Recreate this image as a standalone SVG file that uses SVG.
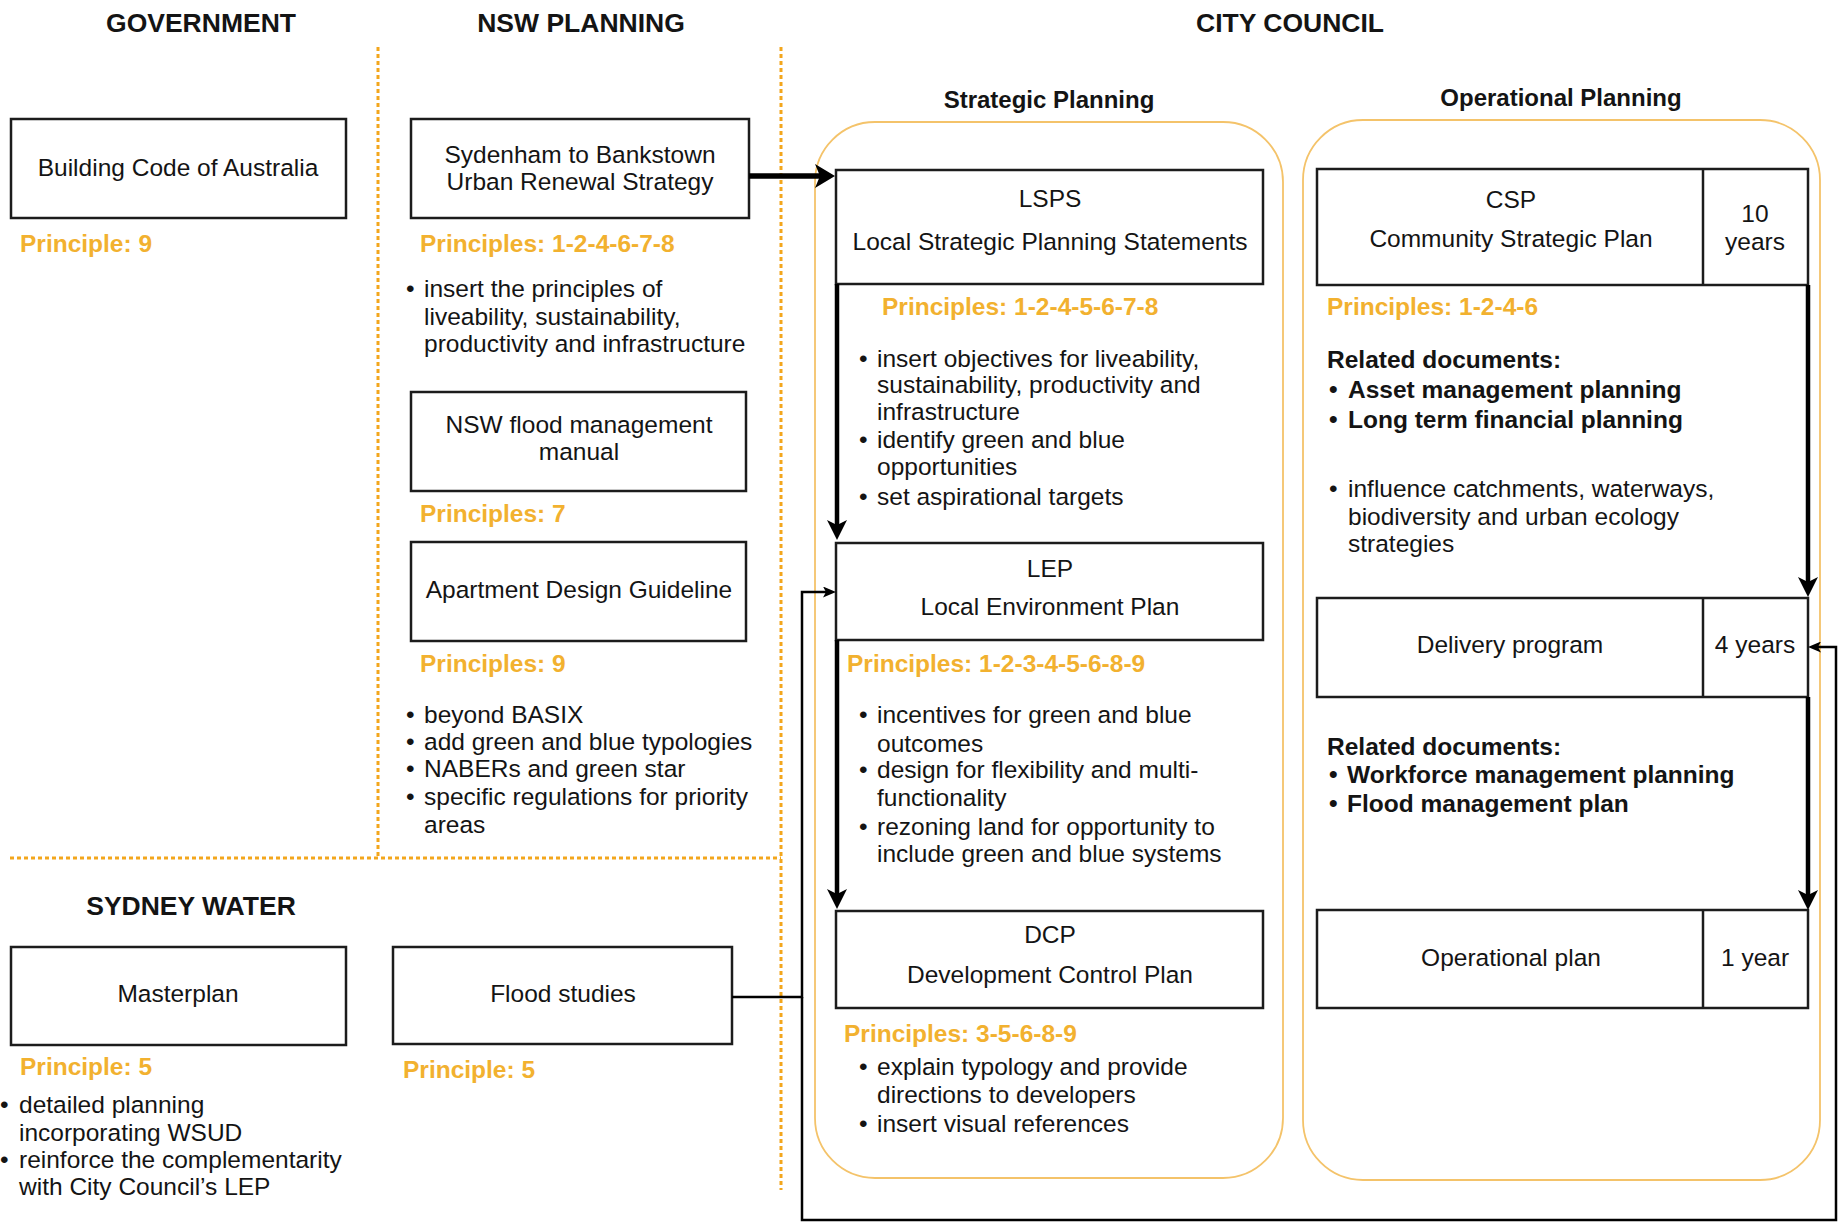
<svg xmlns="http://www.w3.org/2000/svg" width="1841" height="1223" viewBox="0 0 1841 1223">
<defs>
<style>
text{font-family:"Liberation Sans",Arial,Helvetica,sans-serif;fill:#141414;font-size:24.5px}
.h{font-weight:bold;font-size:26.5px;text-anchor:middle}
.sh{font-weight:bold;font-size:24px;text-anchor:middle}
.c{text-anchor:middle}
.p{fill:#F2B12F;font-weight:bold}
.b{font-weight:bold}
.box{fill:#fff;stroke:#1c1c1c;stroke-width:2.5}
.grp{fill:none;stroke:#F4C36A;stroke-width:1.8}
.dash{stroke:#F3A61C;stroke-width:3;stroke-dasharray:4 3;fill:none}
.thick{stroke:#000;stroke-width:4.5;fill:none}
.thin{stroke:#000;stroke-width:2.5;fill:none}
</style>
<marker id="big" markerUnits="userSpaceOnUse" viewBox="0 0 20 24" markerWidth="20" markerHeight="24" refX="10" refY="12" orient="auto"><path d="M0,0 L20,12 L0,24 L5,12 Z" fill="#000"/></marker>
<marker id="med" markerUnits="userSpaceOnUse" viewBox="0 0 20 20" markerWidth="20" markerHeight="20" refX="10" refY="10" orient="auto"><path d="M0,0 L20,10 L0,20 L5,10 Z" fill="#000"/></marker>
<marker id="sm" markerUnits="userSpaceOnUse" viewBox="0 0 13 11" markerWidth="13" markerHeight="11" refX="6" refY="5.5" orient="auto"><path d="M0,0 L13,5.5 L0,11 L3,5.5 Z" fill="#000"/></marker>
</defs>
<rect width="1841" height="1223" fill="#fff"/>

<g id="headers">
<text class="h" x="201" y="32">GOVERNMENT</text>
<text class="h" x="581" y="32">NSW PLANNING</text>
<text class="h" x="1290" y="32">CITY COUNCIL</text>
<text class="h" x="191" y="915">SYDNEY WATER</text>
<text class="sh" x="1049" y="108">Strategic Planning</text>
<text class="sh" x="1561" y="106">Operational Planning</text>
</g>

<g id="dividers">
<path class="dash" d="M378 47 V858"/>
<path class="dash" d="M781 47 V1190"/>
<path class="dash" d="M10 858 H781"/>
</g>

<g id="strategic-group"><rect class="grp" x="815" y="122" width="468" height="1056" rx="60" ry="60"/></g>
<g id="operational-group"><rect class="grp" x="1303" y="120" width="517" height="1060" rx="60" ry="60"/></g>

<g id="building-code">
<rect class="box" x="11" y="119" width="335" height="99"/>
<text class="c" x="178" y="176">Building Code of Australia</text>
<text class="p" x="20" y="252">Principle: 9</text>
</g>

<g id="sydenham">
<rect class="box" x="411" y="119" width="338" height="99"/>
<text class="c" x="580" y="163">Sydenham to Bankstown</text>
<text class="c" x="580" y="190">Urban Renewal Strategy</text>
<text class="p" x="420" y="252">Principles: 1-2-4-6-7-8</text>
<text x="406" y="297">•</text>
<text x="424" y="297">insert the principles of</text>
<text x="424" y="325">liveability, sustainability,</text>
<text x="424" y="352">productivity and infrastructure</text>
</g>

<g id="flood-manual">
<rect class="box" x="411" y="392" width="335" height="99"/>
<text class="c" x="579" y="433">NSW flood management</text>
<text class="c" x="579" y="460">manual</text>
<text class="p" x="420" y="522">Principles: 7</text>
</g>

<g id="apartment">
<rect class="box" x="411" y="542" width="335" height="99"/>
<text class="c" x="579" y="598">Apartment Design Guideline</text>
<text class="p" x="420" y="672">Principles: 9</text>
<text x="406" y="723">•</text><text x="424" y="723">beyond BASIX</text>
<text x="406" y="750">•</text><text x="424" y="750">add green and blue typologies</text>
<text x="406" y="777">•</text><text x="424" y="777">NABERs and green star</text>
<text x="406" y="805">•</text><text x="424" y="805">specific regulations for priority</text>
<text x="424" y="833">areas</text>
</g>

<g id="masterplan">
<rect class="box" x="11" y="947" width="335" height="98"/>
<text class="c" x="178" y="1002">Masterplan</text>
<text class="p" x="20" y="1075">Principle: 5</text>
<text x="0" y="1113">•</text><text x="19" y="1113">detailed planning</text>
<text x="19" y="1141">incorporating WSUD</text>
<text x="0" y="1168">•</text><text x="19" y="1168">reinforce the complementarity</text>
<text x="19" y="1195">with City Council’s LEP</text>
</g>

<g id="flood-studies">
<rect class="box" x="393" y="947" width="339" height="97"/>
<text class="c" x="563" y="1002">Flood studies</text>
<text class="p" x="403" y="1078">Principle: 5</text>
</g>

<g id="lsps">
<rect class="box" x="836" y="170" width="427" height="114"/>
<text class="c" x="1050" y="207">LSPS</text>
<text class="c" x="1050" y="250">Local Strategic Planning Statements</text>
<text class="p" x="882" y="315">Principles: 1-2-4-5-6-7-8</text>
<text x="859" y="367">•</text><text x="877" y="367">insert objectives for liveability,</text>
<text x="877" y="393">sustainability, productivity and</text>
<text x="877" y="420">infrastructure</text>
<text x="859" y="448">•</text><text x="877" y="448">identify green and blue</text>
<text x="877" y="475">opportunities</text>
<text x="859" y="505">•</text><text x="877" y="505">set aspirational targets</text>
</g>

<g id="lep">
<rect class="box" x="836" y="543" width="427" height="97"/>
<text class="c" x="1050" y="577">LEP</text>
<text class="c" x="1050" y="615">Local Environment Plan</text>
<text class="p" x="847" y="672">Principles: 1-2-3-4-5-6-8-9</text>
<text x="859" y="723">•</text><text x="877" y="723">incentives for green and blue</text>
<text x="877" y="752">outcomes</text>
<text x="859" y="778">•</text><text x="877" y="778">design for flexibility and multi-</text>
<text x="877" y="806">functionality</text>
<text x="859" y="835">•</text><text x="877" y="835">rezoning land for opportunity to</text>
<text x="877" y="862">include green and blue systems</text>
</g>

<g id="dcp">
<rect class="box" x="836" y="911" width="427" height="97"/>
<text class="c" x="1050" y="943">DCP</text>
<text class="c" x="1050" y="983">Development Control Plan</text>
<text class="p" x="844" y="1042">Principles: 3-5-6-8-9</text>
<text x="859" y="1075">•</text><text x="877" y="1075">explain typology and provide</text>
<text x="877" y="1103">directions to developers</text>
<text x="859" y="1132">•</text><text x="877" y="1132">insert visual references</text>
</g>

<g id="csp">
<rect class="box" x="1317" y="169" width="491" height="116"/>
<line class="box" x1="1703" y1="169" x2="1703" y2="285"/>
<text class="c" x="1511" y="208">CSP</text>
<text class="c" x="1511" y="247">Community Strategic Plan</text>
<text class="c" x="1755" y="222">10</text>
<text class="c" x="1755" y="250">years</text>
<text class="p" x="1327" y="315">Principles: 1-2-4-6</text>
<text class="b" x="1327" y="368">Related documents:</text>
<text class="b" x="1329" y="398">•</text><text class="b" x="1348" y="398">Asset management planning</text>
<text class="b" x="1329" y="428">•</text><text class="b" x="1348" y="428">Long term financial planning</text>
<text x="1329" y="497">•</text><text x="1348" y="497">influence catchments, waterways,</text>
<text x="1348" y="525">biodiversity and urban ecology</text>
<text x="1348" y="552">strategies</text>
</g>

<g id="delivery">
<rect class="box" x="1317" y="598" width="491" height="99"/>
<line class="box" x1="1703" y1="598" x2="1703" y2="697"/>
<text class="c" x="1510" y="653">Delivery program</text>
<text class="c" x="1755" y="653">4 years</text>
<text class="b" x="1327" y="755">Related documents:</text>
<text class="b" x="1329" y="783">•</text><text class="b" x="1347" y="783">Workforce management planning</text>
<text class="b" x="1329" y="812">•</text><text class="b" x="1347" y="812">Flood management plan</text>
</g>

<g id="operational-plan">
<rect class="box" x="1317" y="910" width="491" height="98"/>
<line class="box" x1="1703" y1="910" x2="1703" y2="1008"/>
<text class="c" x="1511" y="966">Operational plan</text>
<text class="c" x="1755" y="966">1 year</text>
</g>

<g id="connectors">
<path class="thick" style="stroke-width:5.5" d="M749 176 H825" marker-end="url(#big)"/>
<path class="thick" d="M837 284 V530" marker-end="url(#med)"/>
<path class="thick" d="M837 640 V899" marker-end="url(#med)"/>
<path class="thick" d="M1808 285 V587" marker-end="url(#med)"/>
<path class="thick" d="M1808 697 V900" marker-end="url(#med)"/>
<path class="thin" d="M732 997 H802 V592 H829" marker-end="url(#sm)"/>
<path class="thin" d="M802 997 V1220 H1836 V647 H1815" marker-end="url(#sm)"/>
</g>
</svg>
